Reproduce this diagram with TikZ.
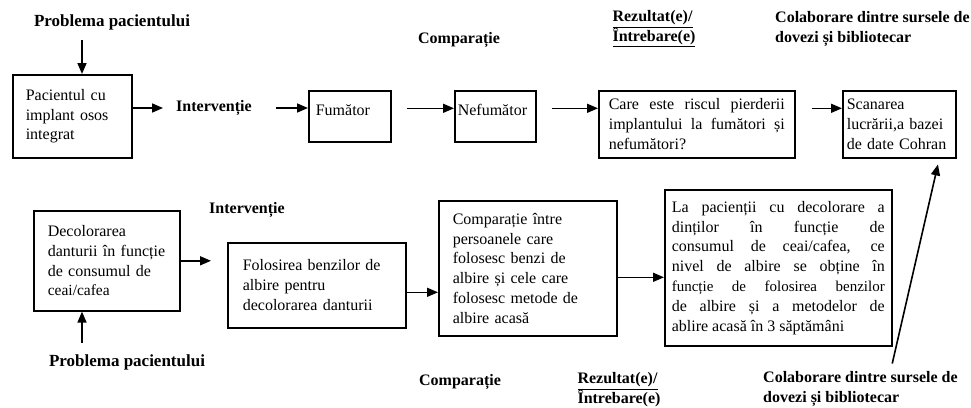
\documentclass[tikz,border=0pt]{standalone}
\usepackage{fontspec}
\setmainfont{Liberation Serif}
\usetikzlibrary{arrows.meta}
\newcommand{\bodysize}{\fontsize{16}{19.8}\selectfont}
\tikzset{
  >={Triangle[length=11pt,width=9pt]},
  box/.style={draw, line width=1.6pt, anchor=north west, align=left,
    inner sep=0pt, font=\bodysize},
  just/.style={box, align=justify,
    execute at begin node={\tolerance=10000\hbadness=10000\hyphenpenalty=10000}},
  lbl/.style={font=\bfseries\bodysize, inner sep=0pt, align=left},
  prob/.style={lbl, font=\bfseries\fontsize{17}{20}\selectfont},
  arr/.style={->, line width=1.6pt},
}

\begin{document}
\begin{tikzpicture}[x=1pt,y=-1pt]
  \useasboundingbox (0,0) rectangle (971,407);

  % labels
  \node[prob] (pp1) at (112,22) {Problema pacientului};
  \node[lbl] (intv1) at (214,108) {Intervenție};
  \node[lbl] (comp1) at (459,40) {Comparație};
  \node[lbl] (rez1) at (654,29) {\underline{Rezultat(e)/}\\\underline{Întrebare(e)}};
  \node[lbl, anchor=west] (colab1) at (775,29) {Colaborare dintre sursele de\\dovezi și bibliotecar};
  \node[lbl] (intv2) at (247,210) {Intervenție};
  \node[prob] (pp2) at (127,362) {Problema pacientului};
  \node[lbl] (comp2) at (460,382) {Comparație};
  \node[lbl] (rez2) at (619,391) {\underline{Rezultat(e)/}\\\underline{Întrebare(e)}};
  \node[lbl, anchor=west] (colab2) at (763,389) {Colaborare dintre sursele de\\dovezi și bibliotecar};

  % boxes
  \node[box, minimum width=119, minimum height=83, text width=93] (pac1) at (12,74)
    {Pacientul cu\\implant osos\\integrat};
  \node[box, minimum width=82, minimum height=51, text width=68, text depth=12pt] (fum) at (308,90) {Fumător};
  \node[box, minimum width=81, minimum height=51, text width=75, text depth=12pt] (nef) at (454,90) {Nefumător};
  \node[just, minimum width=196, minimum height=67, text width=176] (care) at (598,90)
    {Care este riscul pierderii\linebreak implantului la fumători și\linebreak nefumători?};
  \node[box, minimum width=113, minimum height=67, text width=105] (scan) at (842,90)
    {Scanarea\\lucrării,a bazei\\de date Cohran};
  \node[box, minimum width=146, minimum height=100, text width=118] (dec) at (33,210)
    {Decolorarea\\danturii în funcție\\de consumul de\\{\fontsize{15.5}{19.8}\selectfont ceai/cafea}};
  \node[box, minimum width=178, minimum height=85, text width=148] (fol) at (227,242)
    {Folosirea benzilor de\\albire pentru\\decolorarea danturii};
  \node[box, minimum width=178, minimum height=135, text width=150] (cmp) at (438,200)
    {Comparație între\\persoanele care\\folosesc benzi de\\albire și cele care\\folosesc metode de\\albire acasă};
  \node[just, minimum width=227, minimum height=156, text width=213] (lap) at (664,189)
    {La pacienții cu decolorare a\linebreak dinților în funcție de\linebreak consumul de ceai/cafea, ce\linebreak
     nivel de albire se obține în\linebreak {\fontsize{15}{19.8}\selectfont funcție de folosirea benzilor}\linebreak
     de albire și a metodelor de\linebreak ablire acasă în 3 săptămâni};

  % arrows
  \draw[arr, shorten <=10pt] ([xshift=-30pt]pp1.south) -- ([xshift=-30pt]pp1.south |- pac1.north);
  \draw[arr, shorten >=13pt] (pac1.east |- intv1) -- (intv1.west);
  \draw[arr, shorten <=24pt] (intv1.east) -- (fum.west |- intv1);
  \draw[arr, shorten <=15pt] ([yshift=8pt]fum.east) -- ([yshift=8pt]fum.east -| nef.west);
  \draw[arr, shorten <=15pt] ([yshift=8pt]nef.east) -- ([yshift=8pt]nef.east -| care.west);
  \draw[arr, shorten <=16pt] ([yshift=16pt]care.east) -- ([yshift=16pt]care.east -| scan.west);
  \draw[arr, shorten <=8pt, shorten >=6pt] ([xshift=30pt]colab2.north) -- ([xshift=40pt]scan.south);
  \draw[arr, shorten <=11pt] ([xshift=-45pt]pp2.north) -- ([xshift=-45pt]pp2.north |- dec.south);
  \draw[arr, shorten >=16pt] (dec.east) -- (dec.east -| fol.west);
  \draw[arr] ([yshift=-7pt]fol.east) -- ([yshift=-7pt]fol.east -| cmp.west);
  \draw[arr] ([yshift=-9pt]cmp.east) -- ([yshift=-9pt]cmp.east -| lap.west);
\end{tikzpicture}
\end{document}
